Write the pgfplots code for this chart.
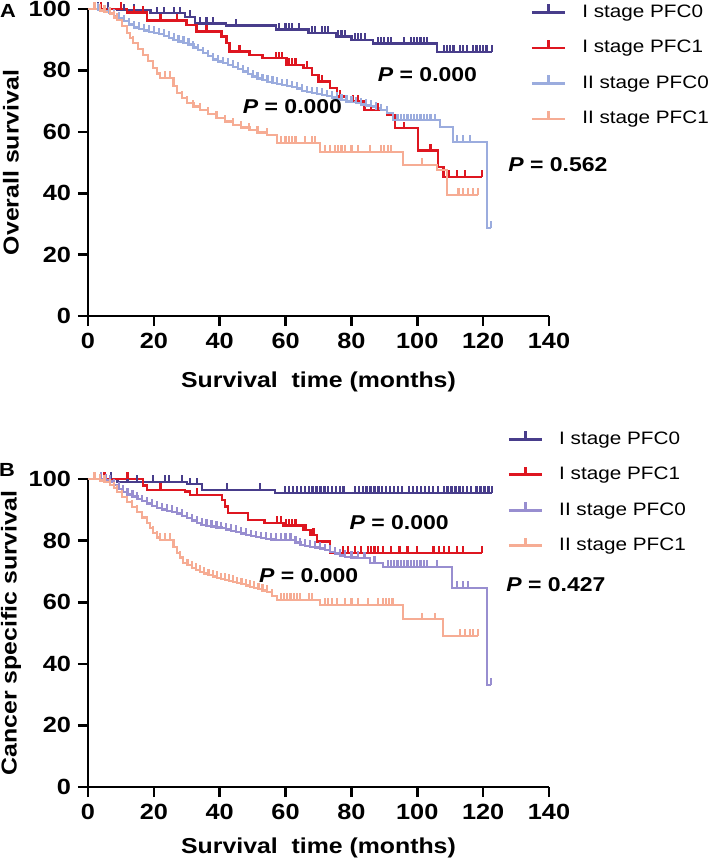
\documentclass[border=0pt]{standalone}
\usepackage{pgfplots}
\pgfplotsset{compat=1.18}
\usepackage{pgfplotstable}
\usepackage{fontspec}
\setmainfont{Liberation Sans}[FakeStretch=1.15]

\definecolor{cI0}{RGB}{72,61,139}
\definecolor{cI1}{RGB}{222,22,32}
\definecolor{cIIa}{RGB}{155,172,222}
\definecolor{cIIb}{RGB}{152,142,208}
\definecolor{cS}{RGB}{246,172,148}

\pgfdeclareplotmark{uptick}{%
  \pgfpathmoveto{\pgfqpoint{0pt}{0pt}}%
  \pgfpathlineto{\pgfqpoint{0pt}{\pgfplotmarksize}}%
  \pgfusepathqstroke}

\pgfplotsset{
  km/.style={const plot, no marks, line width=1.15pt},
  cens/.style={only marks, mark=uptick, mark size=3.3pt, mark options={solid, line width=1.1pt}, forget plot, restrict expr to domain={\thisrow{c}}{0.5:1.5}},
  kmaxis/.style={
    scale only axis, width=230.5pt, height=153.5pt,
    xmin=0, xmax=140, ymin=0, ymax=100,
    xtick={0,20,...,140}, ytick={0,20,...,100},
    axis lines=left, axis line style={-, line width=1.3pt},
    tick style={line width=1.3pt, black},
    tick align=outside, major tick length=5pt,
    tick label style={font=\fontsize{11}{12}\selectfont\bfseries},
    /pgf/number format/assume math mode=true,
    label style={font=\fontsize{10.8}{12}\selectfont\bfseries},
    ylabel style={at={(axis description cs:-0.167,0.5)}, anchor=center, rotate=0},
    clip=false,
    legend cell align=left,
    legend style={draw=none, fill=none, anchor=north west, inner sep=0pt, row sep=6.75pt,
      font=\fontsize{9}{11}\selectfont,
      nodes={inner sep=1pt, text height=7pt, text depth=2pt, anchor=west},
      /tikz/every odd column/.append style={column sep=7pt}},
    legend image code/.code={%
      \draw[#1, line width=1.4pt] (0pt,0pt) -- (16.5pt,0pt);
      \draw[#1, line width=1.2pt] (8.25pt,0pt) -- (8.25pt,4pt);},
  },
}

% ---------------- Panel A: overall survival ----------------
\pgfplotstableread{
x y c
0 100 0
3 100 1
6 100 1
9 99.6 0
11 99.6 1
14 99.6 1
19 98.6 0
21 98.6 1
23 98.6 1
26 98.6 1
28 98.6 1
29.5 97.5 0
31 97.5 1
32.5 95.3 0
34 95.3 1
36 95.3 1
38 95.3 1
42 94.6 0
45 94.6 1
57 93.3 0
58 93.3 1
60 93.3 1
61 93.3 1
62 93.3 1
64 93.3 1
67 92.2 0
68 92.2 1
69 92.2 1
71 92.2 1
72 92.2 1
73 92.2 1
75.5 91 0
76 91 1
77 91 1
78 91 1
80 89.9 0
81 89.9 1
82 89.9 1
83 89.9 1
84 89.9 1
86.6 88.8 0
88 88.8 1
89 88.8 1
90 88.8 1
91 88.8 1
92 88.8 1
96 88.8 1
98 88.8 1
99 88.8 1
100 88.8 1
101 88.8 1
102 88.8 1
103 88.8 1
106 86.1 0
108 86.1 1
109 86.1 1
110 86.1 1
111 86.1 1
113 86.1 1
114 86.1 1
115 86.1 1
117 86.1 1
118 86.1 1
119 86.1 1
120 86.1 1
121 86.1 1
122.7 86.1 1
}\AIzero

\pgfplotstableread{
x y c
0 100 0
4 100 1
10 100 1
11.8 98.8 0
14 98.8 1
16.8 98.8 1
17.9 96.2 0
22 96.2 1
27 96.2 1
30 94.8 0
33 92.6 0
36 92.6 1
40.6 91 0
42.1 88.9 0
43 86.1 0
46 86.1 1
49 85 0
53 84 0
57 84 1
58 84 1
59 84 1
60.3 81.8 0
61 81.8 1
62 81.8 1
63 81.8 1
65.4 80.8 0
66.5 80.8 1
68 78.5 0
70 76.3 0
71 76.3 1
73.5 74.3 0
75.6 71.4 0
76.5 71.4 1
78.6 69.8 0
80.5 69.8 1
82 69.8 1
84 67.1 0
86 67.1 1
88 67.1 1
90.8 65.5 0
93.2 61.2 0
96 61.2 1
100.2 54 0
104 54 1
106.3 48.5 0
108 45.3 0
109.7 45.3 1
112 45.3 1
114.5 45.3 1
119.6 45.3 1
}\AIone

\pgfplotstableread{
x y c
0 100 0
3 99.7 1
5 99.2 1
6.5 98.6 1
8 97.8 1
9.5 97 1
11 96 1
12.5 95 1
14 94 1
15.5 93.5 1
17 93 1
18.5 92.6 1
20 92.2 1
21.5 91.8 1
23 91.3 1
24.5 90.6 1
26 90 1
27.5 89.4 1
29 88.9 1
30.5 88.4 1
32 87.5 1
33.5 86.6 1
35 85.6 1
36.5 84.6 1
38 83.6 1
39.5 82.9 1
41 82.3 1
42.5 81.8 1
44 81.2 1
45.5 80.5 1
47 79.6 1
48.5 78.8 1
50 78 1
51.5 77.4 1
53 76.8 1
54.5 76.3 1
56 75.9 1
57.5 75.6 1
59 75.2 1
60.5 75 1
62 74.5 1
63.5 74.1 1
65 73.4 1
66.5 72.9 1
68 72.6 1
69.5 72.3 1
71 72 1
72.5 71.6 1
74 71.2 1
75.5 70.8 1
77 70.3 1
78.5 69.9 1
80 69.6 1
81.5 69.3 1
83 68.9 1
84.5 68.6 1
86 68.2 1
87.5 67.6 1
89 67 1
90.8 66.2 1
92.6 63.8 0
94 63.8 1
95 63.8 1
96 63.8 1
97 63.8 1
98 63.8 1
99 63.8 1
100 63.8 1
101 63.8 1
102 63.8 1
103 63.8 1
104 63.8 1
105.5 63.8 1
107 61.6 0
110.8 56.7 0
112 56.7 1
114 56.7 1
116 56.7 1
121.2 28.7 0
122.3 28.7 1
}\AIIzero

\pgfplotstableread{
x y c
0 100 0
2 100 1
3.6 99.5 1
5 99 1
6.7 98.5 1
8 97.2 1
8.8 96.4 1
10.3 94.5 1
11.8 92.2 1
12.8 90.5 1
13.7 88.9 1
15.2 87 1
16.7 85 1
18.2 83 1
19.7 80.8 1
21 79 1
21.9 77.5 0
23.5 77.5 1
24.9 77.5 1
26 75 1
27 72.6 1
28.5 71 1
30 69.4 1
32 68.2 1
34 67.1 1
36.5 65.8 1
39 64.5 1
41.5 63.4 1
44 62.2 1
46.5 61.4 1
49 60.6 1
51.5 59.8 1
54.3 59 1
57.3 56.4 0
58.5 56.4 1
60 56.4 1
61 56.4 1
62 56.4 1
63 56.4 1
66 56.4 1
68 56.4 1
69 56.4 1
70.5 53.5 0
72 53.5 1
73.5 53.5 1
75 53.5 1
76 53.5 1
77 53.5 1
78 53.5 1
80 53.5 1
82 53.5 1
85.6 53.5 1
89 53.5 1
90 53.5 1
91 53.5 1
92 53.5 1
95.7 49.2 0
101.4 49.2 1
106 47.5 0
109 39.4 0
112.5 39.4 1
114 39.4 1
115.5 39.4 1
117 39.4 1
118.4 39.4 1
}\AIIone

% ---------------- Panel B: cancer specific survival ----------------
\pgfplotstableread{
x y c
0 100 0
4 100 1
7 100 1
9 99.1 0
12 99.1 1
15 99.1 1
19.7 99.1 1
23.4 99.1 1
24.5 99.1 1
28.5 99.1 1
30 98.3 0
31 98.3 1
33 98.3 1
34.6 96.4 0
42.2 96.4 1
52.2 96.4 1
56.8 95.5 0
59.8 95.5 1
61 95.5 1
62.2 95.5 1
63.4 95.5 1
64.6 95.5 1
65.8 95.5 1
67 95.5 1
68.2 95.5 1
69.4 95.5 1
70.6 95.5 1
71.8 95.5 1
73 95.5 1
74.2 95.5 1
75.4 95.5 1
76.6 95.5 1
77.6 95.5 1
81 95.5 1
82.2 95.5 1
83.4 95.5 1
84.6 95.5 1
85.8 95.5 1
87 95.5 1
88.2 95.5 1
89.4 95.5 1
90.6 95.5 1
91.8 95.5 1
93 95.5 1
94.2 95.5 1
95.4 95.5 1
97.6 95.5 1
98.8 95.5 1
100 95.5 1
101.2 95.5 1
102.4 95.5 1
103.6 95.5 1
104.8 95.5 1
106.3 95.5 1
108 95.5 1
109.2 95.5 1
110.4 95.5 1
111.6 95.5 1
112.8 95.5 1
114 95.5 1
115.2 95.5 1
116.4 95.5 1
118 95.5 1
119.2 95.5 1
120.4 95.5 1
121.6 95.5 1
122.7 95.5 1
}\BIzero

\pgfplotstableread{
x y c
0 100 0
5 100 1
12 100 1
16.7 98 0
17.9 96.4 0
22 96.4 1
29.5 95.9 0
31 94.8 0
33 94.8 1
40.7 93.2 0
41.6 91 0
42.5 89 0
48.6 86.7 0
53.7 85.7 0
57.5 85.7 1
58.5 85.7 1
59.3 85 0
60.2 85 1
61 85 1
62 85 1
63 85 1
65.4 83.4 0
66.2 83.4 1
67.5 81.8 0
68.5 81.8 1
69.5 79.6 0
73.5 76 0
77.4 76 1
79 76 1
81 76 1
83 76 1
85 76 1
86 76 1
87 76 1
88 76 1
89.7 76 1
92 76 1
94.6 76 1
97 76 1
100 76 1
104.9 76 1
106.5 76 1
108 76 1
109.7 76 1
112 76 1
114 76 1
119.6 76 1
}\BIone

\pgfplotstableread{
x y c
0 100 0
2 100 1
4 100 1
5.5 99.6 1
6.7 99.2 1
8 98 1
9.5 96.8 1
10.7 95.8 1
12 95 1
13.5 94.3 1
15 93.6 1
16.5 92.8 1
18 92 1
19.5 91.3 1
21 90.6 1
22.5 90.1 1
24 89.7 1
25.5 89.3 1
27 88.8 1
28.5 88.1 1
30 87.3 1
31.5 86.5 1
33 85.7 1
34.5 85.1 1
36 84.8 1
37.5 84.6 1
39 84.3 1
40.5 84 1
42 83.6 1
43.5 83.2 1
45 82.8 1
46.5 82.3 1
48 81.8 1
49.5 81.4 1
51 81.1 1
52.5 80.8 1
54 80.6 1
55.5 80.4 1
57 80.3 1
58.5 80.3 1
60 80.2 1
61.5 80.2 1
63 79.4 1
64.5 78.6 1
66 78.3 1
67.5 78 1
69 77.8 1
70.5 77.4 1
72 76.9 1
73.5 76.4 1
75 75.8 1
76.5 75.2 1
78 74.7 1
80 74.5 1
82 74.4 1
84 74.3 1
85.6 72.7 0
87 72.7 1
89.6 71.4 0
91 71.4 1
92 71.4 1
93 71.4 1
94 71.4 1
95 71.4 1
96 71.4 1
97 71.4 1
98 71.4 1
99 71.4 1
100 71.4 1
101 71.4 1
102 71.4 1
103 71.4 1
106 71.4 1
110.5 64.6 0
112 64.6 1
114 64.6 1
115.5 64.6 1
121.2 33.1 0
122.3 33.1 1
}\BIIzero

\pgfplotstableread{
x y c
0 100 0
2 100 1
3.6 99.5 1
5 99 1
6.7 98 1
7.8 97 1
8.8 95.8 1
10.3 94.2 1
11.8 92.5 1
13.3 90.9 1
14.8 89.3 1
16.4 87.5 1
17.9 85.7 1
18.8 84 1
19.7 82.5 1
21 81 1
21.9 80.2 1
23.4 80.2 1
24.9 80.2 1
26 78 1
27 76 1
28 74.5 1
28.9 72.7 1
30.2 72 1
31.5 71.2 1
32.8 70.5 1
34 69.8 1
35.3 69.3 1
36.6 68.8 1
37.9 68.3 1
39.2 67.9 1
40.4 67.5 1
41.6 67.2 1
42.8 66.9 1
44 66.6 1
45.3 66.2 1
46.6 65.8 1
47.9 65.4 1
49.2 65 1
50.5 64.6 1
51.8 64.2 1
53 63.8 1
54.3 63.4 1
55.8 62 1
57.3 60.7 0
58.5 60.7 1
59.5 60.7 1
60.5 60.7 1
61.5 60.7 1
62.5 60.7 1
63.5 60.7 1
64.5 60.7 1
67 60.7 1
68 60.7 1
70.5 59.1 0
72 59.1 1
73 59.1 1
74 59.1 1
75.5 59.1 1
78 59.1 1
80 59.1 1
82 59.1 1
85 59.1 1
88 59.1 1
89.5 59.1 1
90.5 59.1 1
91.5 59.1 1
92.5 59.1 1
95.7 54.5 0
101.4 54.5 1
105.4 54.5 1
107.8 49 0
113 49 1
114.5 49 1
116 49 1
117 49 1
118.4 49 1
}\BIIone

\begin{document}
\begin{tikzpicture}
\path[use as bounding box] (0,0) rectangle (354.5pt,-431.5pt);

\node[font=\fontsize{9.5}{10}\selectfont\bfseries] at (4pt,-5.5pt) {A};
\node[font=\fontsize{9.5}{10}\selectfont\bfseries] at (3.5pt,-235pt) {B};

\begin{axis}[kmaxis, at={(44pt,-158pt)}, anchor=south west,
  xlabel={Survival\ \ time (months)}, ylabel={Overall survival},
  xlabel style={at={(axis description cs:0.5,-0.215)}, anchor=center},
  legend style={at={(0.959,1.026)}}]
  \addplot[km, cI0] table[x=x,y=y] {\AIzero}; \addlegendentry{I stage PFC0}
  \addplot[cens, cI0] table[x=x,y=y] {\AIzero};
  \addplot[km, cI1, line width=1.35pt] table[x=x,y=y] {\AIone}; \addlegendentry{I stage PFC1}
  \addplot[cens, cI1] table[x=x,y=y] {\AIone};
  \addplot[km, cIIa] table[x=x,y=y] {\AIIzero}; \addlegendentry{II stage PFC0}
  \addplot[cens, cIIa] table[x=x,y=y] {\AIIzero};
  \addplot[km, cS] table[x=x,y=y] {\AIIone}; \addlegendentry{II stage PFC1}
  \addplot[cens, cS] table[x=x,y=y] {\AIIone};
  \node[font=\fontsize{10}{12}\selectfont\bfseries] at (axis cs:103.1,78.5) {\textit{P} = 0.000};
  \node[font=\fontsize{10}{12}\selectfont\bfseries] at (axis cs:62.1,68.1) {\textit{P} = 0.000};
  \node[font=\fontsize{10}{12}\selectfont\bfseries] at (axis cs:142.7,49.2) {\textit{P} = 0.562};
\end{axis}

\begin{axis}[kmaxis, at={(44pt,-393.5pt)}, anchor=south west, height=154pt,
  xlabel={Survival\ \ time (months)}, ylabel={Cancer specific survival},
  xlabel style={at={(axis description cs:0.5,-0.198)}, anchor=center},
  legend style={at={(0.909,1.166)}}]
  \addplot[km, cI0] table[x=x,y=y] {\BIzero}; \addlegendentry{I stage PFC0}
  \addplot[cens, cI0] table[x=x,y=y] {\BIzero};
  \addplot[km, cI1, line width=1.35pt] table[x=x,y=y] {\BIone}; \addlegendentry{I stage PFC1}
  \addplot[cens, cI1] table[x=x,y=y] {\BIone};
  \addplot[km, cIIb] table[x=x,y=y] {\BIIzero}; \addlegendentry{II stage PFC0}
  \addplot[cens, cIIb] table[x=x,y=y] {\BIIzero};
  \addplot[km, cS] table[x=x,y=y] {\BIIone}; \addlegendentry{II stage PFC1}
  \addplot[cens, cS] table[x=x,y=y] {\BIIone};
  \node[font=\fontsize{10}{12}\selectfont\bfseries] at (axis cs:94.5,86) {\textit{P} = 0.000};
  \node[font=\fontsize{10}{12}\selectfont\bfseries] at (axis cs:67,68.5) {\textit{P} = 0.000};
  \node[font=\fontsize{10}{12}\selectfont\bfseries] at (axis cs:142.1,65.6) {\textit{P} = 0.427};
\end{axis}
\end{tikzpicture}
\end{document}
